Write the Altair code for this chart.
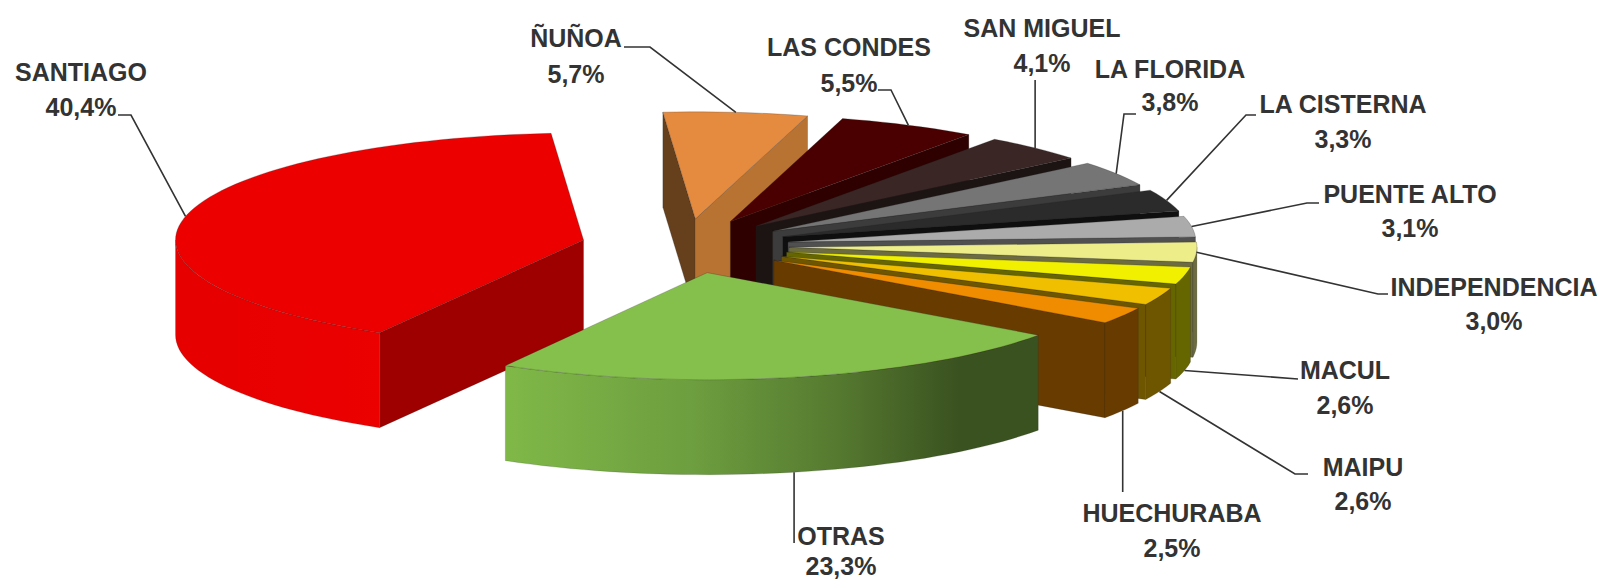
import math
import altair as alt
import pandas as pd

# ---- chart values
names = ["SANTIAGO", "ÑUÑOA", "LAS CONDES", "SAN MIGUEL", "LA FLORIDA", "LA CISTERNA",
         "PUENTE ALTO", "INDEPENDENCIA", "MACUL", "MAIPU", "HUECHURABA", "OTRAS"]
shares = [40.4, 5.7, 5.5, 4.1, 3.8, 3.3, 3.1, 3.0, 2.6, 2.6, 2.5, 23.3]
share_labels = ["40,4%", "5,7%", "5,5%", "4,1%", "3,8%", "3,3%", "3,1%", "3,0%", "2,6%", "2,6%", "2,5%", "23,3%"]
top_colors = ["#EC0000", "#E58B40", "#4A0000", "#3A2725", "#757575", "#2B2B2B",
              "#ABABAB", "#EDED8A", "#F0F000", "#EFBF00", "#F08C00", "#86C04C"]
wall_colors = ["#9E0000", "#B87333", "#2E0000", "#1C1412", "#3C3C3C", "#0F0F0F",
               "#505050", "#6C6C40", "#666600", "#6E5500", "#683C00", "#3A5220"]
start_wall_colors = {"SANTIAGO": "#9E0000", "ÑUÑOA": "#66401C"}

# ---- layout (page pixels): label centres and leader elbows (None = same x as the slice anchor)
label_pos = {
    "SANTIAGO": (81, 73, 108), "ÑUÑOA": (576, 39, 75), "LAS CONDES": (849, 48, 84),
    "SAN MIGUEL": (1042, 29, 64), "LA FLORIDA": (1170, 70, 103), "LA CISTERNA": (1343, 105, 140),
    "PUENTE ALTO": (1410, 195, 229), "INDEPENDENCIA": (1494, 288, 322), "MACUL": (1345, 371, 406),
    "MAIPU": (1363, 468, 502), "HUECHURABA": (1172, 514, 549), "OTRAS": (841, 537, 567),
}
elbows = {
    "SANTIAGO": [(118, 115), (131, 115)], "ÑUÑOA": [(624, 47), (650, 47)],
    "LAS CONDES": [(878, 90), (891, 90)], "SAN MIGUEL": [(None, 80)],
    "LA FLORIDA": [(1136, 114), (1124, 114)], "LA CISTERNA": [(1256, 115), (1246, 115)],
    "PUENTE ALTO": [(1319, 203), (1307, 203)], "INDEPENDENCIA": [(1388, 294), (1378, 294)],
    "MACUL": [(1298, 379)], "MAIPU": [(1308, 474), (1295, 474)],
    "HUECHURABA": [(None, 492)], "OTRAS": [(None, 543)],
}
CX, CY, RX, RY, DEPTH, EXPLODE, START = 685.0, 246.0, 408.0, 107.0, 95.0, 0.255, 210.0
FONT = "Liberation Sans"
FS = 25
X_SCALE = alt.Scale(domain=[8, 1597], range=[0, 1589], nice=False, zero=False)
Y_SCALE = alt.Scale(domain=[8, 582], range=[0, 574], nice=False, zero=False)


def pt(apex, deg, r=1.0, dz=0.0):
    t = math.radians(deg)
    return (apex[0] + r * RX * math.sin(t), apex[1] - r * RY * math.cos(t) + dz)


def face(points, fill, stroke="#222222", sop=0.35):
    df = pd.DataFrame({"x": [p[0] for p in points], "y": [p[1] for p in points],
                       "i": list(range(len(points)))})
    return alt.Chart(df).mark_line(
        interpolate="linear-closed", filled=True, fill=fill, stroke=stroke,
        strokeWidth=0.7, strokeOpacity=sop,
    ).encode(
        x=alt.X("x:Q", scale=X_SCALE, axis=None),
        y=alt.Y("y:Q", scale=Y_SCALE, axis=None),
        order=alt.Order("i:Q"),
    )


def arc(apex, a, b, dz=0.0):
    n = max(2, int(abs(b - a) / 2) + 1)
    return [pt(apex, a + (b - a) * k / n, 1.0, dz) for k in range(n + 1)]


def grad(stops):
    return alt.LinearGradient(
        gradient="linear", x1=0, y1=0, x2=1, y2=0,
        stops=[alt.GradientStop(offset=o, color=c) for o, c in stops],
    )


otras_grad = grad([(0, "#80B848"), (0.35, "#6D9E3F"), (0.62, "#567A30"), (0.85, "#3A5220"), (1, "#3A5220")])
santiago_grad = grad([(0, "#E60000"), (1, "#EC0000")])

slices = []
acc = START
for name, share, tc, wc in zip(names, shares, top_colors, wall_colors):
    a, b = acc, acc + share * 3.6
    acc = b
    m = (a + b) / 2
    t = math.radians(m)
    apex = (CX + EXPLODE * RX * math.sin(t), CY - EXPLODE * RY * math.cos(t))
    slices.append(dict(name=name, a=a, b=b, m=m, apex=apex, top=tc, wall=wc))

paint = [s for s in slices if s["name"] not in ("SANTIAGO", "OTRAS")]
paint = [slices[0]] + paint + [slices[-1]]

layers = []
for s in paint:
    a, b, apex = s["a"], s["b"], s["apex"]
    if math.sin(math.radians(a)) < 0:   # start wall faces the viewer
        p = pt(apex, a)
        layers.append(face([apex, p, (p[0], p[1] + DEPTH), (apex[0], apex[1] + DEPTH)],
                           start_wall_colors.get(s["name"], s["wall"])))
    if math.sin(math.radians(b)) > 0:   # end wall faces the viewer
        p = pt(apex, b)
        layers.append(face([apex, p, (p[0], p[1] + DEPTH), (apex[0], apex[1] + DEPTH)], s["wall"]))
    lo, hi = max(a if a < 360 else a - 360, 90), min(b if b < 360 else b - 360, 270)
    if a < 360 <= b:
        lo, hi = 1, 0
    if hi > lo:
        fill = {"OTRAS": otras_grad, "SANTIAGO": santiago_grad}.get(s["name"], s["wall"])
        pts = arc(apex, lo, hi) + arc(apex, hi, lo, DEPTH)
        layers.append(face(pts, fill, sop=0.25))
    layers.append(face([apex] + arc(apex, a, b), s["top"]))

# leader lines: from the label elbow to the middle of the slice's outer edge
rows = []
for s in slices:
    deg = s["m"] % 360
    front = 100 < deg < 260
    end = pt(s["apex"], s["m"], 1.0, DEPTH if front else 0.0)
    path = [(end[0] if x is None else x, y) for x, y in elbows[s["name"]]] + [end]
    for i, (x, y) in enumerate(path):
        rows.append(dict(name=s["name"], i=i, x=x, y=y))
leaders = alt.Chart(pd.DataFrame(rows)).mark_line(color="#333333", strokeWidth=1.6).encode(
    x=alt.X("x:Q", scale=X_SCALE, axis=None),
    y=alt.Y("y:Q", scale=Y_SCALE, axis=None),
    detail="name:N",
    order=alt.Order("i:Q"),
)

lab_rows = []
for n, l in zip(names, share_labels):
    x, y1, y2 = label_pos[n]
    lab_rows.append(dict(text=n, x=x, y=y1))
    lab_rows.append(dict(text=l, x=x, y=y2))
labels = alt.Chart(pd.DataFrame(lab_rows)).mark_text(
    font=FONT, fontSize=FS, fontWeight="bold", color="#333333", align="center", baseline="middle",
).encode(
    x=alt.X("x:Q", scale=X_SCALE, axis=None),
    y=alt.Y("y:Q", scale=Y_SCALE, axis=None),
    text="text:N",
)

chart = alt.layer(*layers, leaders, labels).properties(
    width=1589, height=574, padding=0,
    autosize=alt.AutoSizeParams(type="none"),
).configure_view(stroke=None)

chart.save("out.html", embed_options={"renderer": "svg", "actions": False})
